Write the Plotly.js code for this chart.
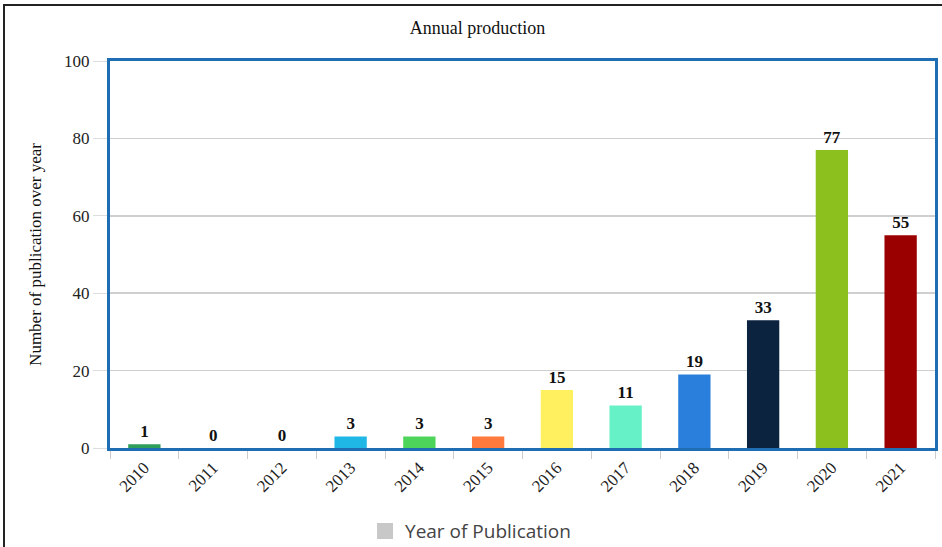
<!DOCTYPE html>
<html>
<head>
<meta charset="utf-8">
<script src="https://cdn.plot.ly/plotly-3.0.1.min.js"></script>
<style>
html,body{margin:0;padding:0;background:#fff;overflow:hidden;}
#frame{position:absolute;left:3px;top:4px;width:1000px;height:600px;border-left:2px solid #222;border-top:2px solid #222;pointer-events:none;z-index:5;}
#chart{position:absolute;left:0;top:0;width:942px;height:547px;}
</style>
</head>
<body>
<div id="chart"></div>
<div id="frame"></div>
<script>
var years = ["2010","2011","2012","2013","2014","2015","2016","2017","2018","2019","2020","2021"];
var counts = [1,0,0,3,3,3,15,11,19,33,77,55];
var barColors = ["#2f9e5a","#7fbf7f","#7fbf7f","#1fb8e6","#4cd55a","#ff7a3c","#fff060","#66f2c6","#2a7fdc","#0c2340","#8cc01e","#9b0000"];
var legendName = "Year of Publication";

var serif = "Liberation Serif, Times New Roman, serif";

var traces = [
  {
    type: "bar",
    x: years,
    y: counts,
    marker: {color: barColors},
    text: counts.map(String),
    textposition: "outside",
    cliponaxis: false,
    textfont: {family: serif, size: 17, color: "#111", weight: "bold"},
    showlegend: false,
    hoverinfo: "x+y"
  },
  {
    type: "scatter",
    mode: "markers",
    x: [years[0]],
    y: [null],
    name: legendName,
    marker: {symbol: "square", size: 22, color: "#c8c8c8"},
    showlegend: true
  }
];

var layout = {
  width: 942,
  height: 547,
  margin: {l: 110, r: 7, t: 61, b: 99},
  paper_bgcolor: "#fff",
  plot_bgcolor: "#fff",
  barmode: "overlay",
  bargap: 0.53,
  title: {
    text: "Annual production",
    font: {family: serif, size: 18, color: "#111"},
    xref: "container", x: 0.507,
    yref: "container", y: 0.949, yanchor: "middle"
  },
  xaxis: {
    type: "category",
    range: [-0.5, years.length - 0.5],
    autorange: false,
    automargin: false,
    tickangle: -45,
    tickson: "boundaries",
    ticks: "outside",
    ticklen: 8,
    tickcolor: "#ccc",
    tickfont: {family: serif, size: 17, color: "#222"},
    showgrid: false,
    showline: true,
    linecolor: "#1f6db3",
    linewidth: 3,
    mirror: true,
    zeroline: false
  },
  yaxis: {
    automargin: false,
    range: [0, 100],
    dtick: 20,
    ticks: "outside",
    ticklen: 14,
    tickcolor: "#ddd",
    tickfont: {family: serif, size: 17, color: "#222"},
    showgrid: true,
    gridcolor: "#cfcfcf",
    gridwidth: 1.5,
    showline: true,
    linecolor: "#1f6db3",
    linewidth: 3,
    mirror: true,
    zeroline: false,
    title: {
      text: "Number of publication over year",
      font: {family: serif, size: 17, color: "#111"},
      standoff: 19
    }
  },
  legend: {
    orientation: "h",
    x: 0.437, xanchor: "center",
    yref: "container",
    y: 0.029, yanchor: "middle",
    font: {family: "Open Sans, DejaVu Sans, sans-serif", size: 19, color: "#444"}
  }
};

Plotly.newPlot("chart", traces, layout, {displayModeBar: false, staticPlot: true});
</script>
</body>
</html>
